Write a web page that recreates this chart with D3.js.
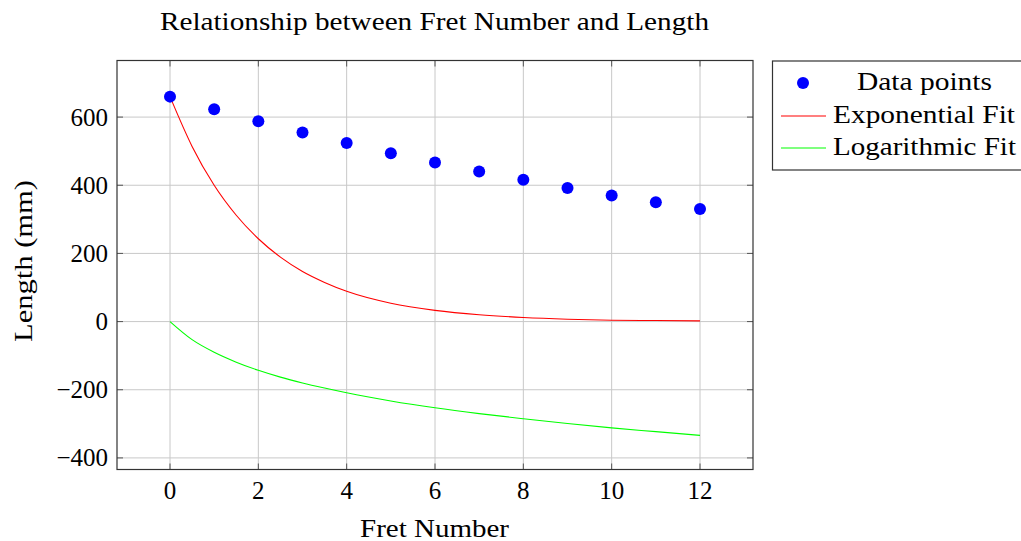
<!DOCTYPE html>
<html><head><meta charset="utf-8">
<script src="https://cdn.jsdelivr.net/npm/d3@7/dist/d3.min.js"></script>
<style>body{margin:0;background:#fff}svg{display:block}text{font-family:"Liberation Serif","DejaVu Serif",serif;fill:#000}</style>
</head><body><svg id="c" width="1021" height="541"></svg>
<script>
const frets = [0,1,2,3,4,5,6,7,8,9,10,11,12];
const lengths = [660,623,588,555,524,494,467,440,416,392,370,350,330];
const fitX = [0,0.5,1,1.5,2,2.5,3,3.5,4,5,6,7,8,9,10,11,12];
const expFit = [660,514,400,312,243,189,147,115,89,54,33,20,12,7,4,3,2];
const logFit = [0,-53,-90,-119,-143,-163,-180,-195,-209,-233,-253,-270,-285,-299,-312,-323,-334];
const xTicks = [0,2,4,6,8,10,12];
const yTicks = [-400,-200,0,200,400,600];
const legendLabels = ["Data points","Exponential Fit","Logarithmic Fit"];

const svg = d3.select("#c");
const L=117,R=753,T=60.5,B=469.5;
const FS=25;
const x = d3.scaleLinear().domain([-1.2,13.2]).range([L,R]);
const y = d3.scaleLinear().domain([-434,766]).range([B,T]);

// grid
svg.append("g").selectAll("line").data(xTicks).join("line")
  .attr("x1",d=>x(d)).attr("x2",d=>x(d)).attr("y1",T).attr("y2",B)
  .attr("stroke","#c8c8c8").attr("stroke-width",1);
svg.append("g").selectAll("line").data(yTicks).join("line")
  .attr("y1",d=>y(d)).attr("y2",d=>y(d)).attr("x1",L).attr("x2",R)
  .attr("stroke","#c8c8c8").attr("stroke-width",1);

// inner ticks
const tk=6;
const tg=svg.append("g").attr("stroke","#555").attr("stroke-width",1);
xTicks.forEach(d=>{
  tg.append("line").attr("x1",x(d)).attr("x2",x(d)).attr("y1",B).attr("y2",B-tk);
  tg.append("line").attr("x1",x(d)).attr("x2",x(d)).attr("y1",T).attr("y2",T+tk);
});
yTicks.forEach(d=>{
  tg.append("line").attr("y1",y(d)).attr("y2",y(d)).attr("x1",L).attr("x2",L+tk);
  tg.append("line").attr("y1",y(d)).attr("y2",y(d)).attr("x1",R).attr("x2",R-tk);
});

// tick labels
svg.append("g").selectAll("text").data(xTicks).join("text")
  .attr("x",d=>x(d)).attr("y",B+29).attr("text-anchor","middle")
  .attr("font-size",FS).text(d=>d);
svg.append("g").selectAll("text").data(yTicks).join("text")
  .attr("x",L-9).attr("y",d=>y(d)+8.5).attr("text-anchor","end")
  .attr("font-size",FS).text(d=>d<0?"\u2212"+Math.abs(d):d);

// lines
const line = d3.line().x((d,i)=>x(fitX[i])).y(d=>y(d)).curve(d3.curveMonotoneX);
svg.append("path").attr("d",line(expFit)).attr("fill","none").attr("stroke","#ff0000").attr("stroke-width",1.1);
svg.append("path").attr("d",line(logFit)).attr("fill","none").attr("stroke","#00ff00").attr("stroke-width",1.1);

// points
svg.append("g").selectAll("circle").data(frets).join("circle")
  .attr("cx",d=>x(d)).attr("cy",(d,i)=>y(lengths[i])).attr("r",6).attr("fill","#0000ff");

// frame
svg.append("rect").attr("x",L).attr("y",T).attr("width",R-L).attr("height",B-T)
  .attr("fill","none").attr("stroke","#333").attr("stroke-width",1.2);

// title and axis labels
svg.append("text").attr("x",160).attr("y",30).attr("font-size",FS)
  .attr("textLength",549).attr("lengthAdjust","spacingAndGlyphs")
  .text("Relationship between Fret Number and Length");
svg.append("text").attr("x",360).attr("y",537).attr("font-size",FS)
  .attr("textLength",149).attr("lengthAdjust","spacingAndGlyphs")
  .text("Fret Number");
svg.append("text").attr("transform","translate(32,342) rotate(-90)").attr("font-size",FS)
  .attr("textLength",162).attr("lengthAdjust","spacingAndGlyphs")
  .text("Length (mm)");

// legend
const lg = svg.append("g");
lg.append("rect").attr("x",772.5).attr("y",61).attr("width",260).attr("height",109)
  .attr("fill","#fff").attr("stroke","#333").attr("stroke-width",1.2);
const ly=[83,116,148];
const lb=[90,123,155];
const lx=[857,833,833];
const lw=[135,182,183];
lg.append("circle").attr("cx",803).attr("cy",ly[0]).attr("r",6).attr("fill","#0000ff");
lg.append("line").attr("x1",781).attr("x2",826).attr("y1",ly[1]).attr("y2",ly[1]).attr("stroke","#ff0000").attr("stroke-width",1.1);
lg.append("line").attr("x1",781).attr("x2",826).attr("y1",ly[2]).attr("y2",ly[2]).attr("stroke","#00ff00").attr("stroke-width",1.1);
lg.selectAll("text.l").data(legendLabels).join("text").attr("class","l")
  .attr("x",(d,i)=>lx[i]).attr("y",(d,i)=>lb[i])
  .attr("textLength",(d,i)=>lw[i]).attr("lengthAdjust","spacingAndGlyphs")
  .attr("font-size",FS).text(d=>d);
</script></body></html>
